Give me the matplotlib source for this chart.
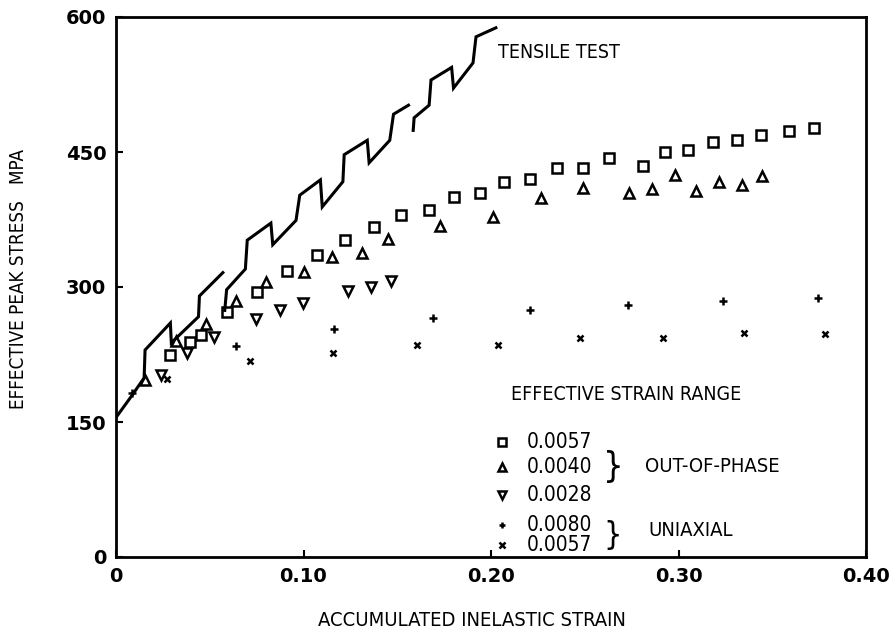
import matplotlib
matplotlib.use("Agg")
import matplotlib.pyplot as plt

# tensile test curve, three separate saw-tooth pieces
tensile_x = [
    [0.0, 0.008, 0.015, 0.0155, 0.029, 0.0295, 0.044, 0.0445, 0.057],
    [0.058, 0.059, 0.069, 0.070, 0.0826, 0.0836, 0.096, 0.098, 0.109, 0.110,
     0.121, 0.1217, 0.134, 0.135, 0.146, 0.148, 0.156],
    [0.1585, 0.159, 0.167, 0.168, 0.179, 0.180, 0.1904, 0.192, 0.2026],
]
tensile_y = [
    [155, 178, 199, 230, 260, 238, 267, 290, 316],
    [274, 297, 320, 352, 371, 347, 374, 402, 419, 389,
     417, 447, 463, 438, 463, 492, 502],
    [474, 488, 502, 530, 544, 521, 549, 578, 588],
]

# out-of-phase, strain range 0.0057 (squares)
sq_x = [0.0286, 0.0397, 0.0455, 0.059, 0.075, 0.091, 0.107, 0.122, 0.1376, 0.152,
        0.167, 0.180, 0.194, 0.207, 0.221, 0.235, 0.249, 0.263, 0.281, 0.2926,
        0.305, 0.3185, 0.331, 0.344, 0.3587, 0.372]
sq_y = [224, 239, 247, 272, 294, 318, 336, 352, 367, 380,
        386, 400, 405, 417, 420, 432, 432, 443, 435, 450,
        452, 461, 463, 469, 473, 477]

# out-of-phase, strain range 0.0040 (triangles up)
tu_x = [0.0153, 0.032, 0.048, 0.064, 0.080, 0.100, 0.115, 0.131, 0.145, 0.173,
        0.201, 0.2265, 0.249, 0.2735, 0.286, 0.298, 0.3095, 0.3217, 0.3339, 0.3444]
tu_y = [197, 240, 259, 284, 306, 317, 333, 338, 353, 368,
        378, 399, 410, 404, 409, 424, 407, 417, 413, 423]

# out-of-phase, strain range 0.0028 (triangles down)
td_x = [0.0238, 0.0376, 0.052, 0.0746, 0.0873, 0.0995, 0.1238, 0.136, 0.1466]
td_y = [202, 227, 244, 265, 275, 282, 296, 300, 307]

# uniaxial, strain range 0.0080 (plus)
pl_x = [0.0085, 0.064, 0.1164, 0.1688, 0.2206, 0.273, 0.3238, 0.3746]
pl_y = [182, 235, 253, 266, 274, 280, 284, 288]

# uniaxial, strain range 0.0057 (cross)
cr_x = [0.027, 0.0714, 0.1159, 0.1603, 0.2037, 0.2476, 0.2915, 0.335, 0.378]
cr_y = [198, 218, 227, 236, 236, 243, 243, 249, 248]

legend_labels = ["0.0057", "0.0040", "0.0028", "0.0080", "0.0057"]
legend_y = [128, 100, 69, 36, 13]
legend_markers = ["s", "^", "v", "+", "x"]

x_ticks = [0.10, 0.20, 0.30]
y_ticks = [150, 300, 450]

txt = dict(family="DejaVu Sans", stretch="condensed")

fig = plt.figure(figsize=(8.89, 6.37), dpi=100)
ax = fig.add_axes([116 / 889, 80 / 637, 750 / 889, 540 / 637])

for xs, ys in zip(tensile_x, tensile_y):
    ax.plot(xs, ys, color="black", lw=2.2, solid_joinstyle="miter")

mk = dict(linestyle="none", color="black", mfc="none", mew=1.8)
ax.plot(sq_x, sq_y, marker="s", ms=7, **mk)
ax.plot(tu_x, tu_y, marker="^", ms=7.5, **mk)
ax.plot(td_x, td_y, marker="v", ms=7.5, **mk)
ax.plot(pl_x, pl_y, marker="+", ms=6, **mk)
ax.plot(cr_x, cr_y, marker="x", ms=5, **mk)

# hand-made legend inside the plot
ax.text(0.272, 180, "EFFECTIVE STRAIN RANGE", fontsize=14,
        ha="center", va="center", **txt)
for lab, ly, m in zip(legend_labels, legend_y, legend_markers):
    size = {"s": 6, "^": 6, "v": 6, "+": 5, "x": 4.5}[m]
    ax.plot([0.206], [ly], marker=m, ms=size, **mk)
    ax.text(0.219, ly, lab, fontsize=15, ha="left", va="center", **txt)
ax.text(0.265, 100, "}", fontsize=26, ha="center", va="center", **txt)
ax.text(0.265, 24, "}", fontsize=23, ha="center", va="center", **txt)
ax.text(0.282, 100, "OUT-OF-PHASE", fontsize=14.5, ha="left", va="center", **txt)
ax.text(0.2837, 30, "UNIAXIAL", fontsize=14.5, ha="left", va="center", **txt)

ax.text(0.204, 561, "TENSILE TEST", fontsize=14, ha="left", va="center", **txt)

ax.set_xlim(0, 0.40)
ax.set_ylim(0, 600)
ax.set_xticks([0] + x_ticks + [0.40])
ax.set_xticklabels(["0", "0.10", "0.20", "0.30", "0.40"])
ax.set_yticks([0] + y_ticks + [600])
ax.set_yticklabels(["0", "150", "300", "450", "600"])
ax.tick_params(direction="in", length=5, width=1.5, labelsize=14, pad=7)
for lab in ax.get_xticklabels() + ax.get_yticklabels():
    lab.set_fontweight("bold")
for sp in ax.spines.values():
    sp.set_linewidth(2.0)

fig.text(19 / 889, 1 - 279 / 637, "EFFECTIVE PEAK STRESS   MPA", fontsize=13.5,
         rotation=90, ha="center", va="center", **txt)
fig.text(472 / 889, 1 - 621 / 637, "ACCUMULATED INELASTIC STRAIN", fontsize=14.5,
         ha="center", va="center", **txt)

fig.savefig("out.png", dpi=100)
